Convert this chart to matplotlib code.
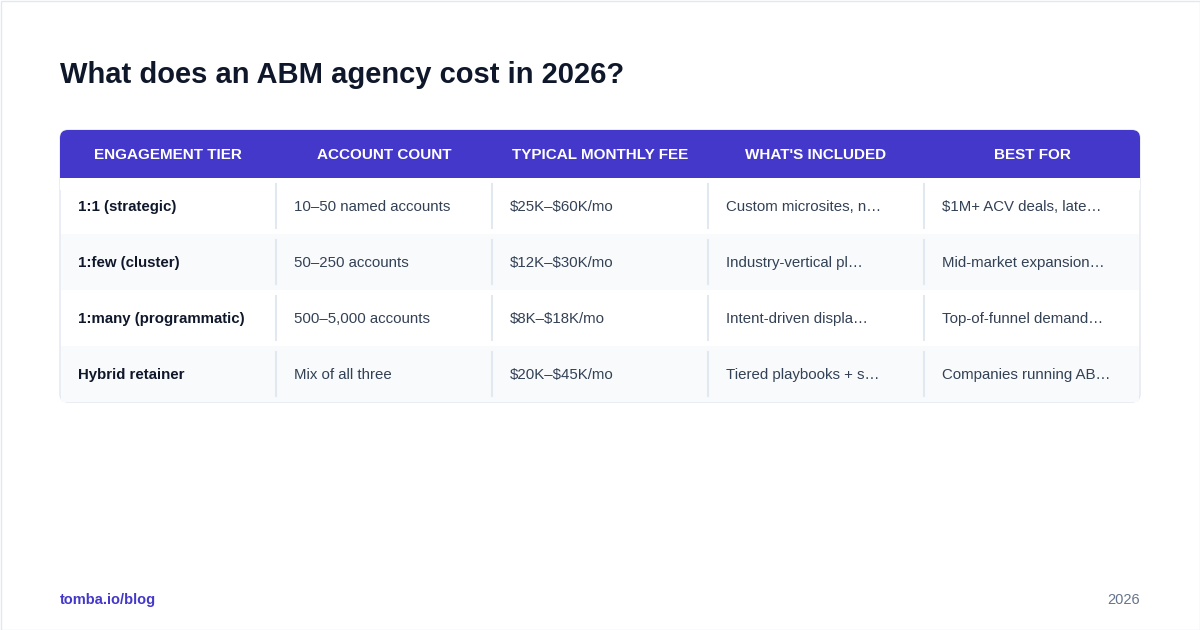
import matplotlib
matplotlib.use("Agg")
from matplotlib import pyplot as plt
from matplotlib.patches import FancyBboxPatch, Rectangle

plt.rcParams['font.family'] = ['Liberation Sans', 'DejaVu Sans']
plt.rcParams['text.parse_math'] = False

title = "What does an ABM agency cost in 2026?"
headers = ["ENGAGEMENT TIER", "ACCOUNT COUNT", "TYPICAL MONTHLY FEE",
           "WHAT'S INCLUDED", "BEST FOR"]
tiers = ["1:1 (strategic)", "1:few (cluster)", "1:many (programmatic)", "Hybrid retainer"]
account_counts = ["10–50 named accounts", "50–250 accounts", "500–5,000 accounts", "Mix of all three"]
fees = ["$25K–$60K/mo", "$12K–$30K/mo", "$8K–$18K/mo", "$20K–$45K/mo"]
included = ["Custom microsites, n…", "Industry-vertical pl…", "Intent-driven displa…", "Tiered playbooks + s…"]
best_for = ["$1M+ ACV deals, late…", "Mid-market expansion…", "Top-of-funnel demand…", "Companies running AB…"]

purple = "#4338CA"
fig = plt.figure(figsize=(12, 6.3), dpi=100)
ax = fig.add_axes([0, 0, 1, 1])
ax.set_xlim(0, 1200)
ax.set_ylim(630, 0)
ax.axis("off")

ax.add_patch(Rectangle((0.5, 0.5), 1199, 629, fill=False, ec="#E2E8F0", lw=1))
ax.text(60, 75, title, fontsize=21, fontweight="bold", color="#0F172A", va="center")

x0, x1, top, head_h, row_h = 60, 1140, 130, 48, 56
col_w = (x1 - x0) / len(headers)
bottom = top + head_h + row_h * len(tiers)

# table frame + header
ax.add_patch(FancyBboxPatch((x0, top), x1 - x0, bottom - top,
                            boxstyle="round,pad=0,rounding_size=8",
                            fc="white", ec="#E2E8F0", lw=1, zorder=1))
ax.add_patch(FancyBboxPatch((x0, top), x1 - x0, head_h + 10,
                            boxstyle="round,pad=0,rounding_size=8",
                            fc=purple, ec="none", zorder=2))
ax.add_patch(Rectangle((x0, top + head_h), x1 - x0, 12, fc="white", ec="none", zorder=2))
for i, h in enumerate(headers):
    ax.text(x0 + col_w * (i + 0.5), top + head_h / 2 + 1, h, color="white",
            fontsize=11, fontweight="bold", ha="center", va="center", zorder=3)

columns = [tiers, account_counts, fees, included, best_for]
for r in range(len(tiers)):
    y = top + head_h + r * row_h
    if r % 2 == 1:
        ax.add_patch(Rectangle((x0 + 1, y), x1 - x0 - 2, row_h, fc="#F8FAFC", ec="none", zorder=2))
    for c, col in enumerate(columns):
        cx = x0 + c * col_w
        if c > 0:
            ax.plot([cx, cx], [y + 6, y + row_h - 6], color="#E2E8F0", lw=1.5, zorder=3)
        ax.text(cx + 18, y + row_h / 2 + 5, col[r], fontsize=10.8,
                fontweight="bold" if c == 0 else "normal",
                color="#0F172A" if c == 0 else "#334155", va="baseline", zorder=3)

ax.text(60, 604, "tomba.io/blog", color=purple, fontsize=10.5, fontweight="bold", va="baseline")
ax.text(1140, 604, "2026", color="#64748B", fontsize=10.5, ha="right", va="baseline")

fig.savefig("out.png", dpi=100)
